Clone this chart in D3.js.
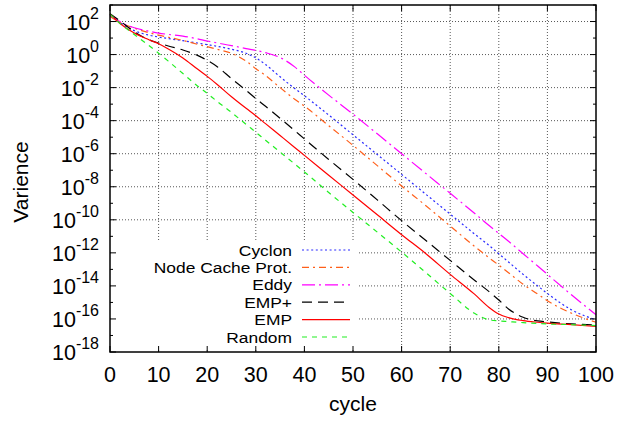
<!DOCTYPE html>
<html>
<head>
<meta charset="utf-8">
<script src="https://cdn.jsdelivr.net/npm/d3@7"></script>
<style>
  body { margin: 0; background: #fff; }
  svg { font-family: "Liberation Sans", Arial, sans-serif; }
</style>
</head>
<body>
<div id="chart"></div>
<script>
// variance per cycle for each protocol

const cycles = [0, 2, 5, 8, 10, 12, 15, 18, 20, 22, 25, 28, 30, 32, 35, 38, 40,
  45, 50, 55, 60, 65, 70, 75, 78, 80, 82, 85, 88, 90, 95, 100];

const cyclon = [2.5e2, 89, 28, 15, 11.5, 9.3, 6.9, 5.0, 4.0, 3.2, 2.1, 1.2, 0.63, 0.25,
  4.5e-2, 8.9e-3, 3.2e-3, 2.2e-4, 1.4e-5, 8.9e-7, 5.6e-8, 3.5e-9, 2.2e-10, 1.4e-11,
  2.8e-12, 8.9e-13, 2.8e-13, 5.0e-14, 1.0e-14, 3.5e-15, 3.5e-16, 8.9e-17];

const nodeCache = [2.0e2, 89, 40, 21, 15, 11.2, 7.1, 4.2, 3.0, 2.1, 1.2, 0.4, 0.14,
  5.4e-2, 1.0e-2, 2.0e-3, 7.6e-4, 5.0e-5, 3.2e-6, 1.9e-7, 1.12e-8, 7.1e-10, 4.2e-11,
  2.5e-12, 5.0e-13, 1.8e-13, 6.3e-14, 1.26e-14, 3.2e-15, 1.26e-15, 2.2e-16, 6.3e-17];

const eddy = [2.5e2, 1.0e2, 42, 26, 20, 16.6, 13.2, 8.9, 6.6, 5.1, 3.5, 2.3, 1.8, 1.3,
  0.66, 0.18, 5.6e-2, 3.5e-3, 2.5e-4, 1.6e-5, 1.0e-6, 6.3e-8, 4.0e-9, 2.5e-10,
  4.5e-11, 1.5e-11, 5.0e-12, 8.9e-13, 1.6e-13, 5.0e-14, 2.8e-15, 1.8e-16];

const empPlus = [3.0e2, 1.12e2, 24, 7.9, 5.0, 3.3, 1.9, 0.89, 0.45, 0.19, 3.5e-2,
  6.8e-3, 2.2e-3, 7.4e-4, 1.4e-4, 2.5e-5, 7.9e-6, 4.5e-7, 2.8e-8, 1.6e-9, 8.9e-11,
  5.6e-12, 3.5e-13, 2.2e-14, 4.5e-15, 1.4e-15, 4.0e-16, 1.26e-16, 7.6e-17, 6.6e-17,
  5.0e-17, 4.3e-17];

const emp = [2.8e2, 79, 20, 7.9, 4.5, 2.2, 0.63, 0.132, 4.8e-2, 1.6e-2, 2.8e-3, 5.6e-4,
  2.0e-4, 6.6e-5, 1.26e-5, 2.4e-6, 7.9e-7, 5.0e-8, 3.16e-9, 2.0e-10, 1.26e-11, 8.9e-13,
  5.0e-14, 3.16e-15, 5.0e-16, 2.0e-16, 1.2e-16, 7.9e-17, 6.3e-17, 5.6e-17, 4.5e-17,
  3.5e-17];

const random = [2.8e2, 79, 16.6, 3.55, 1.2, 0.4, 7.1e-2, 1.26e-2, 4.5e-3, 1.5e-3,
  3.16e-4, 6.0e-5, 2.0e-5, 6.6e-6, 1.26e-6, 2.4e-7, 7.9e-8, 4.5e-9, 2.8e-10, 1.8e-11,
  1.12e-12, 6.3e-14, 3.5e-15, 2.2e-16, 8.9e-17, 7.6e-17, 6.9e-17, 6.0e-17, 5.4e-17,
  5.0e-17, 4.5e-17, 4.0e-17];

const seriesNames = ["Cyclon", "Node Cache Prot.", "Eddy", "EMP+", "EMP", "Random"];
const xTicks = [0, 10, 20, 30, 40, 50, 60, 70, 80, 90, 100];
const yExponents = [2, 0, -2, -4, -6, -8, -10, -12, -14, -16, -18];
const yMinorExponents = [3, 1, -1, -3, -5, -7, -9, -11, -13, -15, -17];

const styles = [
  { color: "#2a2aff", dash: "2,2.6" },
  { color: "#ff5f1a", dash: "7,4,2,4" },
  { color: "#ff00ff", dash: "13,4,2,4" },
  { color: "#000000", dash: "10,6" },
  { color: "#ff0000", dash: null },
  { color: "#22ee22", dash: "5,5" },
];

const W = 618, H = 421;
const margin = { left: 110, top: 5, right: 22, bottom: 69 };
const plotW = W - margin.left - margin.right;
const plotH = H - margin.top - margin.bottom;

const svg = d3.select("#chart").append("svg")
  .attr("width", W).attr("height", H);

const g = svg.append("g")
  .attr("transform", `translate(${margin.left},${margin.top})`);

const x = d3.scaleLinear().domain([0, 100]).range([0, plotW]);
const y = d3.scaleLog().domain([1e-18, 1e3]).range([plotH, 0]);

// grid
const grid = g.append("g")
  .attr("stroke", "#444").attr("stroke-width", 0.9).attr("stroke-dasharray", "1,2");
grid.selectAll(".vg").data(xTicks.slice(1, -1)).enter().append("line")
  .attr("x1", d => x(d)).attr("x2", d => x(d))
  .attr("y1", 0).attr("y2", plotH);
grid.selectAll(".hg").data(yExponents.slice(0, -1)).enter().append("line")
  .attr("x1", 0).attr("x2", plotW)
  .attr("y1", d => y(Math.pow(10, d))).attr("y2", d => y(Math.pow(10, d)));

// key area hides the grid behind it
g.append("rect")
  .attr("x", 2).attr("y", 236).attr("width", 245).attr("height", plotH - 238)
  .attr("fill", "#fff");

// curves
const allSeries = [cyclon, nodeCache, eddy, empPlus, emp, random];
const line = d3.line()
  .x((d, i) => x(cycles[i]))
  .y(d => y(d))
  .curve(d3.curveMonotoneX);

allSeries.forEach((vals, k) => {
  g.append("path")
    .datum(vals)
    .attr("d", line)
    .attr("fill", "none")
    .attr("stroke", styles[k].color)
    .attr("stroke-width", 1.2)
    .attr("stroke-dasharray", styles[k].dash);
});

// ticks on all four sides
const ticks = g.append("g").attr("stroke", "#000").attr("stroke-width", 1);
xTicks.forEach(t => {
  ticks.append("line").attr("x1", x(t)).attr("x2", x(t)).attr("y1", plotH).attr("y2", plotH - 6);
  ticks.append("line").attr("x1", x(t)).attr("x2", x(t)).attr("y1", 0).attr("y2", 6);
});
yExponents.forEach(e => {
  const yy = y(Math.pow(10, e));
  ticks.append("line").attr("x1", 0).attr("x2", 6).attr("y1", yy).attr("y2", yy);
  ticks.append("line").attr("x1", plotW).attr("x2", plotW - 6).attr("y1", yy).attr("y2", yy);
});
yMinorExponents.forEach(e => {
  const yy = y(Math.pow(10, e));
  ticks.append("line").attr("x1", 0).attr("x2", 3).attr("y1", yy).attr("y2", yy);
  ticks.append("line").attr("x1", plotW).attr("x2", plotW - 3).attr("y1", yy).attr("y2", yy);
});

// border
g.append("rect")
  .attr("width", plotW).attr("height", plotH)
  .attr("fill", "none").attr("stroke", "#000").attr("stroke-width", 1.5);

// x tick labels
g.selectAll(".xl").data(xTicks).enter().append("text")
  .attr("x", d => x(d)).attr("y", plotH + 30)
  .attr("text-anchor", "middle")
  .attr("font-size", 21.5)
  .text(d => d);

// y tick labels as 10^n
yExponents.forEach(e => {
  const t = g.append("text")
    .attr("x", -11).attr("y", y(Math.pow(10, e)) + 8)
    .attr("text-anchor", "end")
    .attr("font-size", 21.5);
  t.append("tspan").text("10");
  t.append("tspan").attr("dy", -11).attr("font-size", 16).text(e);
});

// axis titles
svg.append("text")
  .attr("x", margin.left + plotW / 2).attr("y", 411)
  .attr("text-anchor", "middle").attr("font-size", 21)
  .text("cycle");
svg.append("text")
  .attr("transform", "translate(28,182) rotate(-90)")
  .attr("text-anchor", "middle").attr("font-size", 21)
  .text("Varience");

// key: rows are tight, so a smaller font stretched back to the original width
const key = g.append("g").attr("transform", "translate(0,245)");
seriesNames.forEach((name, k) => {
  const ky = k * 17.4;
  const txt = key.append("text")
    .attr("x", 182).attr("y", ky + 5.5)
    .attr("text-anchor", "end").attr("font-size", 15.4)
    .text(name);
  const w = txt.node().getComputedTextLength();
  txt.attr("textLength", w * 1.13).attr("lengthAdjust", "spacingAndGlyphs");
  key.append("line")
    .attr("x1", 192).attr("x2", 240).attr("y1", ky).attr("y2", ky)
    .attr("stroke", styles[k].color).attr("stroke-width", 1.2)
    .attr("stroke-dasharray", styles[k].dash);
});
</script>
</body>
</html>
